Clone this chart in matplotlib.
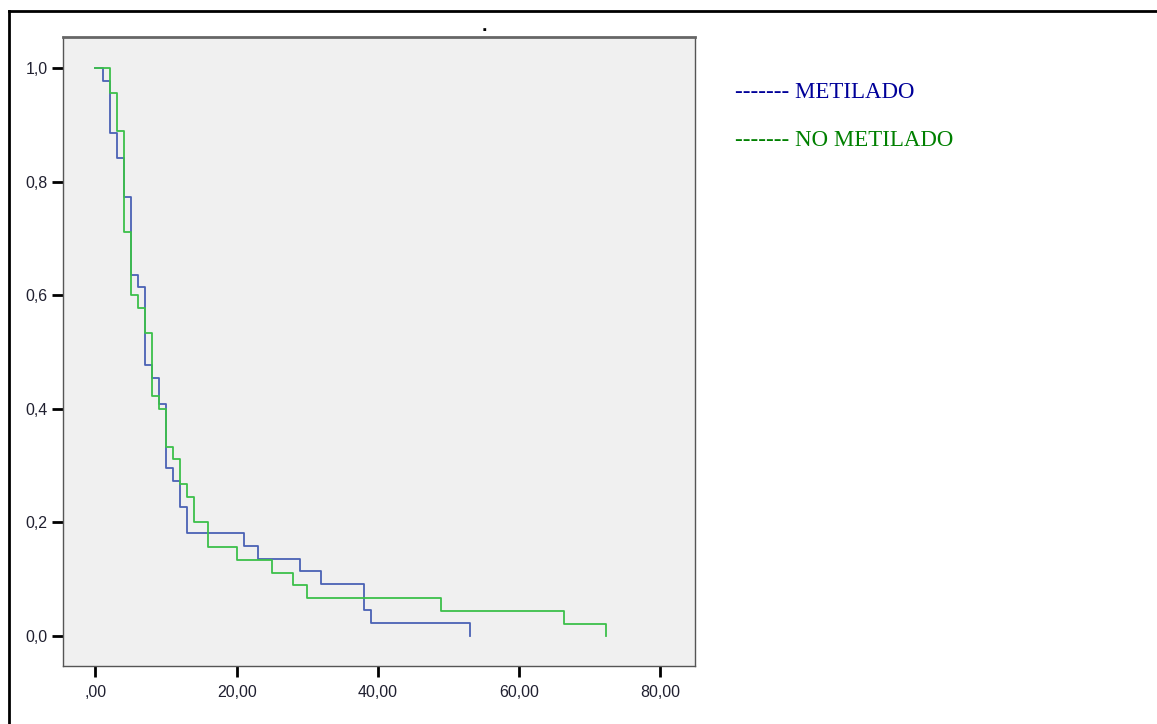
import matplotlib
matplotlib.use("Agg")
import matplotlib.pyplot as plt
from matplotlib.lines import Line2D

plt.rcParams['font.family'] = ['Liberation Sans', 'DejaVu Sans']

# Kaplan-Meier steps (time, survival)
met_t = [0, 1, 2, 3, 4, 5, 6, 7, 8, 9, 10, 11, 12, 13, 21, 23, 29, 32, 38, 39, 53]
met_s = [1.0, 0.977, 0.886, 0.841, 0.773, 0.636, 0.614, 0.477, 0.455, 0.409,
         0.295, 0.273, 0.227, 0.182, 0.159, 0.136, 0.114, 0.091, 0.045, 0.023, 0.0]

nomet_t = [0, 2, 3, 4, 5, 6, 7, 8, 9, 10, 11, 12, 13, 14, 16, 20, 25, 28, 30, 49, 66.4, 72.3]
nomet_s = [1.0, 0.956, 0.889, 0.711, 0.6, 0.578, 0.533, 0.422, 0.4, 0.333, 0.311,
           0.267, 0.244, 0.2, 0.156, 0.133, 0.111, 0.089, 0.067, 0.044, 0.022, 0.0]

xticks = [0, 20, 40, 60, 80]
xlabels = [",00", "20,00", "40,00", "60,00", "80,00"]
yticks = [0.0, 0.2, 0.4, 0.6, 0.8, 1.0]
ylabels = ["0,0", "0,2", "0,4", "0,6", "0,8", "1,0"]

W, H = 1157, 724
fig = plt.figure(figsize=(W / 100, H / 100), dpi=100)

# outer frame (top and left only visible)
fig.add_artist(Line2D([9 / W, 1], [1 - 11 / H, 1 - 11 / H], color='black', lw=2))
fig.add_artist(Line2D([9 / W, 9 / W], [0, 1 - 11 / H], color='black', lw=2))

ax = fig.add_axes([63 / W, 1 - 666 / H, 632 / W, 629 / H])
ax.set_facecolor('#f0f0f0')

ax.step(met_t, met_s, where='post', color='#4a62b5', lw=1.3)
ax.step(nomet_t, nomet_s, where='post', color='#3cc04a', lw=1.3)

ax.set_xlim(-4.6, 84.9)
ax.set_ylim(-0.0528, 1.0546)
ax.set_xticks(xticks)
ax.set_xticklabels(xlabels)
ax.set_yticks(yticks)
ax.set_yticklabels(ylabels)
ax.tick_params(axis='both', direction='out', length=8, width=2, color='black',
               labelsize=11.5, labelcolor='#202030', pad=3)
ax.tick_params(axis='x', pad=6)
for sp in ax.spines.values():
    sp.set_color('#555555')
    sp.set_linewidth(1)
ax.spines['top'].set_linewidth(2)
ax.spines['top'].set_color('#666666')

# little title mark
fig.text(484 / W, 1 - 31 / H, ".", fontsize=14, fontweight='bold', ha='center',
         va='baseline', color='black')

# legend written as text
fig.text(735 / W, 1 - 92 / H, "------- METILADO", family=['Liberation Serif', 'DejaVu Serif'],
         fontsize=16.5, color='#000099', va='center', ha='left')
fig.text(735 / W, 1 - 140 / H, "------- NO METILADO", family=['Liberation Serif', 'DejaVu Serif'],
         fontsize=16.5, color='#008000', va='center', ha='left')

fig.savefig("out.png", dpi=100, facecolor='white')
